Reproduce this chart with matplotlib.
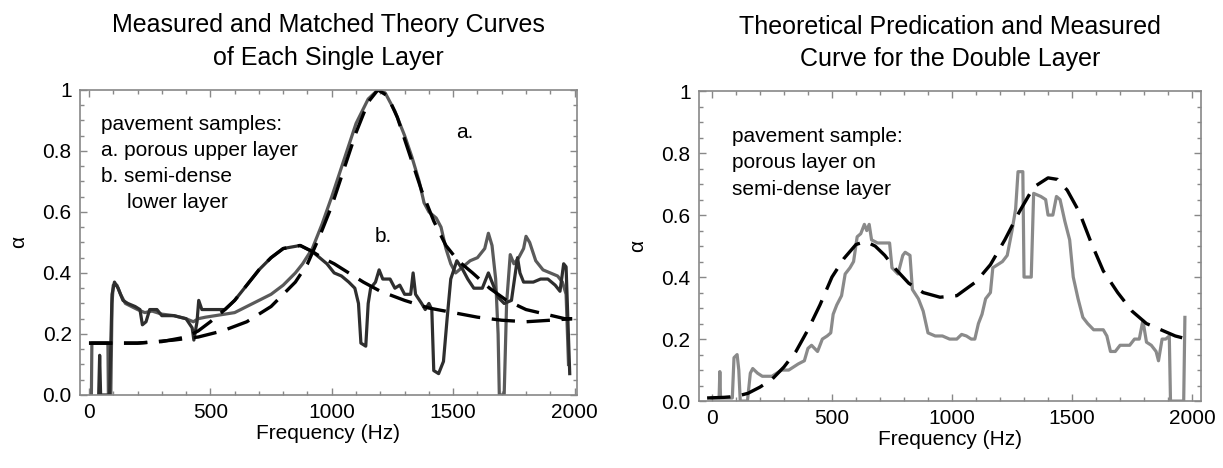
import matplotlib
matplotlib.use("Agg")
import matplotlib.pyplot as plt
from matplotlib.ticker import MultipleLocator, FixedLocator, FixedFormatter

plt.rcParams['font.family'] = ['Liberation Sans', 'DejaVu Sans']

# --- left panel: single layers -------------------------------------------
a_freq = [10, 12, 78, 80, 90, 95, 100, 115, 130, 150, 175, 200, 230, 260, 300, 350, 400, 430,
          450, 480, 520, 560, 600, 650, 700, 750, 800, 850, 880, 920, 960, 1000, 1050, 1100,
          1150, 1190, 1220, 1260, 1300, 1330, 1360, 1380, 1400, 1430, 1450, 1470, 1490, 1510,
          1540, 1570, 1600, 1630, 1645, 1660, 1675, 1685, 1690, 1710, 1720, 1735, 1750, 1770,
          1790, 1800, 1815, 1840, 1870, 1900, 1930, 1950, 1965, 1975]
a_meas = [0.0, 0.17, 0.17, 0.0, 0.0, 0.30, 0.36, 0.36, 0.33, 0.30, 0.29, 0.28, 0.27, 0.275,
          0.265, 0.26, 0.25, 0.24, 0.25, 0.255, 0.26, 0.265, 0.27, 0.29, 0.31, 0.33, 0.36, 0.40,
          0.43, 0.48, 0.56, 0.65, 0.77, 0.89, 0.97, 1.0, 0.99, 0.93, 0.85, 0.78, 0.70, 0.63, 0.60,
          0.58, 0.55, 0.48, 0.43, 0.40, 0.42, 0.44, 0.45, 0.48, 0.53, 0.49, 0.38, 0.20, 0.0, 0.0,
          0.30, 0.46, 0.43, 0.45, 0.48, 0.52, 0.50, 0.44, 0.41, 0.40, 0.39, 0.37, 0.33, 0.10]

b_freq = [40, 44, 48, 85, 95, 105, 120, 140, 160, 190, 210, 220, 235, 250, 280, 300, 350, 400,
          425, 432, 445, 452, 465, 500, 560, 600, 650, 700, 750, 800, 870, 920, 950, 980, 1010,
          1040, 1070, 1095, 1110, 1120, 1140, 1150, 1160, 1180, 1195, 1210, 1240, 1260, 1280,
          1300, 1325, 1335, 1345, 1370, 1385, 1400, 1412, 1420, 1440, 1460, 1475, 1490, 1515,
          1540, 1560, 1585, 1620, 1645, 1665, 1685, 1710, 1740, 1765, 1775, 1790, 1830, 1860,
          1890, 1920, 1940, 1955, 1965, 1980]
b_meas = [0.0, 0.13, 0.0, 0.0, 0.33, 0.37, 0.35, 0.31, 0.30, 0.29, 0.28, 0.23, 0.24, 0.28,
          0.28, 0.26, 0.26, 0.25, 0.22, 0.18, 0.24, 0.31, 0.28, 0.28, 0.28, 0.31, 0.36, 0.41,
          0.45, 0.48, 0.49, 0.47, 0.45, 0.43, 0.40, 0.39, 0.37, 0.35, 0.30, 0.17, 0.16, 0.30,
          0.35, 0.37, 0.41, 0.38, 0.38, 0.35, 0.36, 0.33, 0.33, 0.40, 0.33, 0.30, 0.28, 0.30,
          0.28, 0.08, 0.07, 0.11, 0.25, 0.38, 0.44, 0.41, 0.38, 0.35, 0.35, 0.40, 0.36, 0.32,
          0.30, 0.31, 0.45, 0.40, 0.37, 0.37, 0.38, 0.38, 0.36, 0.34, 0.43, 0.42, 0.07]

ta_freq = [0, 200, 350, 450, 550, 650, 750, 850, 900, 950, 1000, 1050, 1100, 1150, 1190, 1230,
           1270, 1320, 1370, 1420, 1470, 1520, 1580, 1650, 1720, 1800, 1880, 1960, 1990]
ta_theo = [0.17, 0.17, 0.18, 0.19, 0.21, 0.24, 0.29, 0.37, 0.43, 0.52, 0.62, 0.74, 0.86, 0.96,
           1.0, 0.98, 0.91, 0.79, 0.67, 0.57, 0.49, 0.44, 0.40, 0.35, 0.31, 0.28, 0.265, 0.25, 0.25]

tb_freq = [0, 200, 300, 400, 450, 500, 560, 600, 650, 700, 750, 800, 870, 920, 960, 1010, 1070,
           1130, 1200, 1300, 1400, 1500, 1600, 1700, 1800, 1900, 1990]
tb_theo = [0.17, 0.17, 0.175, 0.19, 0.21, 0.24, 0.28, 0.31, 0.36, 0.41, 0.45, 0.48, 0.49, 0.47,
           0.45, 0.43, 0.40, 0.37, 0.34, 0.31, 0.285, 0.27, 0.255, 0.245, 0.24, 0.245, 0.25]

# --- right panel: double layer --------------------------------------------
d_freq = [0, 30, 33, 36, 85, 92, 105, 112, 118, 148, 160, 170, 190, 210, 250, 270, 290, 320,
          340, 360, 385, 400, 415, 440, 460, 480, 495, 505, 520, 540, 555, 575, 590, 605, 620,
          635, 645, 655, 665, 690, 740, 750, 775, 795, 805, 825, 835, 860, 880, 900, 930, 960,
          990, 1020, 1040, 1060, 1080, 1095, 1110, 1125, 1140, 1160, 1170, 1190, 1210, 1230,
          1250, 1265, 1275, 1295, 1300, 1330, 1340, 1370, 1390, 1400, 1420, 1435, 1450, 1470,
          1490, 1505, 1525, 1545, 1565, 1590, 1630, 1645, 1660, 1680, 1700, 1740, 1760, 1780,
          1795, 1810, 1830, 1850, 1860, 1875, 1890, 1905, 1910, 1965, 1970]
d_meas = [0.01, 0.01, 0.095, 0.01, 0.01, 0.14, 0.15, 0.10, 0.0, 0.0, 0.09, 0.105, 0.09, 0.08,
          0.08, 0.09, 0.10, 0.10, 0.11, 0.12, 0.13, 0.17, 0.18, 0.16, 0.20, 0.21, 0.22, 0.28,
          0.31, 0.34, 0.41, 0.43, 0.45, 0.53, 0.54, 0.57, 0.55, 0.57, 0.52, 0.51, 0.51, 0.43,
          0.41, 0.47, 0.48, 0.47, 0.36, 0.33, 0.29, 0.22, 0.21, 0.21, 0.20, 0.20, 0.215, 0.21,
          0.20, 0.20, 0.25, 0.28, 0.33, 0.35, 0.43, 0.44, 0.45, 0.47, 0.55, 0.62, 0.74, 0.74,
          0.40, 0.40, 0.67, 0.66, 0.65, 0.60, 0.60, 0.66, 0.65, 0.58, 0.52, 0.40, 0.33, 0.27,
          0.25, 0.23, 0.23, 0.21, 0.16, 0.16, 0.18, 0.18, 0.20, 0.20, 0.26, 0.19, 0.18, 0.16,
          0.13, 0.20, 0.20, 0.21, 0.0, 0.0, 0.27]

dt_freq = [-20, 50, 100, 150, 200, 250, 300, 350, 400, 450, 500, 550, 600, 640, 680, 720, 760,
           820, 880, 950, 1020, 1100, 1160, 1220, 1280, 1340, 1400, 1440, 1480, 1530, 1580, 1630,
           1690, 1750, 1810, 1870, 1930, 1980]
dt_theo = [0.01, 0.012, 0.015, 0.025, 0.045, 0.07, 0.11, 0.16, 0.23, 0.31, 0.40, 0.46, 0.505,
           0.515, 0.50, 0.47, 0.43, 0.38, 0.35, 0.335, 0.34, 0.385, 0.44, 0.52, 0.61, 0.69, 0.72,
           0.715, 0.68, 0.61, 0.51, 0.42, 0.35, 0.29, 0.25, 0.23, 0.21, 0.20]

fig = plt.figure(figsize=(12.23, 4.68), dpi=100)
ax1 = fig.add_axes([0.0654, 0.156, 0.4064, 0.652])
ax2 = fig.add_axes([0.5715, 0.143, 0.4105, 0.6624])

dash = (0, (7, 3.5))
ax1.plot(a_freq, a_meas, color='#5a5a5a', lw=2.3)
ax1.plot(b_freq, b_meas, color='#2e2e2e', lw=2.3)
ax1.plot(ta_freq, ta_theo, color='black', lw=2.4, linestyle=dash)
ax1.plot(tb_freq, tb_theo, color='black', lw=2.4, linestyle=dash)

ax2.plot(d_freq, d_meas, color='#8a8a8a', lw=2.3)
ax2.plot(dt_freq, dt_theo, color='black', lw=2.4, linestyle=dash)

ax1.set_xlim(-37, 2010)
ax2.set_xlim(-54, 2037)

ylabels = ['0.0', '0.2', '0.4', '0.6', '0.8', '1']
for ax in (ax1, ax2):
    ax.set_ylim(0, 1)
    ax.xaxis.set_major_locator(MultipleLocator(500))
    ax.xaxis.set_minor_locator(MultipleLocator(100))
    ax.yaxis.set_major_locator(FixedLocator([0, 0.2, 0.4, 0.6, 0.8, 1.0]))
    ax.yaxis.set_major_formatter(FixedFormatter(ylabels))
    ax.yaxis.set_minor_locator(MultipleLocator(0.05))
    ax.tick_params(which='both', direction='in', top=True, right=True, color='#888888',
                   labelsize=15, width=1)
    ax.tick_params(which='major', length=5, pad=6)
    ax.tick_params(which='minor', length=3)
    for s in ax.spines.values():
        s.set_color('#888888')
        s.set_linewidth(1.2)
    ax.set_xlabel('Frequency (Hz)', fontsize=15, labelpad=1)
    ax.set_ylabel('α', fontsize=15, labelpad=10)

tfont = dict(fontsize=18, linespacing=1.45)
ax1.set_title('Measured and Matched Theory Curves\nof Each Single Layer', pad=18, **tfont)
ax2.set_title('Theoretical Predication and Measured\nCurve for the Double Layer', pad=18, **tfont)

ax1.text(50, 0.885, 'pavement samples:', fontsize=15, va='center')
ax1.text(50, 0.80, 'a. porous upper layer', fontsize=15, va='center')
ax1.text(50, 0.715, 'b. semi-dense', fontsize=15, va='center')
ax1.text(156, 0.63, 'lower layer', fontsize=15, va='center')
ax1.text(1513, 0.86, 'a.', fontsize=15, va='center')
ax1.text(1178, 0.52, 'b.', fontsize=15, va='center')

ax2.text(83, 0.855, 'pavement sample:', fontsize=15, va='center')
ax2.text(83, 0.768, 'porous layer on', fontsize=15, va='center')
ax2.text(83, 0.682, 'semi-dense layer', fontsize=15, va='center')

fig.savefig('out.png', dpi=100)
